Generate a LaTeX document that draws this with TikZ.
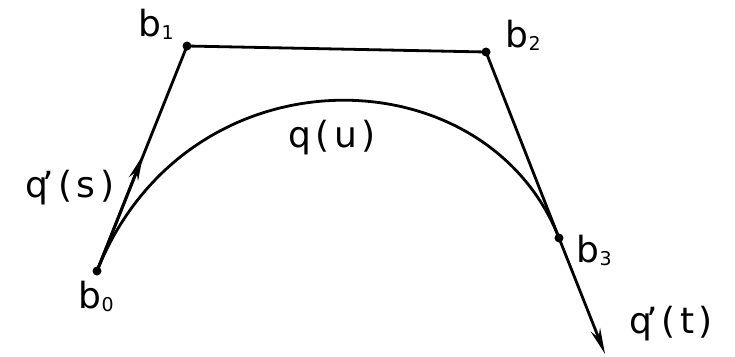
\documentclass[tikz,border=0pt]{standalone}
\usepackage{fontspec}
\setmainfont{DejaVu Sans}[LetterSpace=12]
\usetikzlibrary{arrows.meta}
\newcommand{\lowidx}[1]{\kern0.5pt\raisebox{-3pt}{\fontsize{19}{19}\selectfont #1}}
\tikzset{
  pt/.style={circle, fill=black, inner sep=0pt, minimum size=9pt},
  lbl/.style={font=\fontsize{36}{38}\selectfont, inner sep=0pt},
  ln/.style={line width=2.8pt, line cap=round, line join=round},
  tip/.style={-{Stealth[length=26pt,width=10pt]}}
}
\begin{document}
\begin{tikzpicture}[x=1pt,y=-1pt]
\useasboundingbox (0,0) rectangle (735,356);
\node[pt] (b0) at (97,271) {};
\node[pt] (b1) at (187,46) {};
\node[pt] (b2) at (486,52) {};
\node[pt] (b3) at (559,238) {};
\coordinate (sm) at (143,155);
\coordinate (te) at (605,354);
\draw[ln] (b0.center) -- (b1.center) -- (b2.center) -- (b3.center);
\draw[ln] (b0.center) .. controls (b1.center) and (b2.center) .. (b3.center);
\draw[ln,tip] (b0.center) -- (sm);
\draw[ln,tip] (b3.center) -- (te);
\node[lbl] (l0) at (96,296) {b\lowidx{0}};
\node[lbl] (l1) at (156,24) {b\lowidx{1}};
\node[lbl] (l2) at (523,35) {b\lowidx{2}};
\node[lbl] (l3) at (594,250) {b\lowidx{3}};
\node[lbl] (qs) at (70,188) {q\kern-6pt'(s)};
\node[lbl] (qu) at (332,138) {q(u)};
\node[lbl] (qt) at (671,324) {q\kern-6pt'(t)};
\end{tikzpicture}
\end{document}
